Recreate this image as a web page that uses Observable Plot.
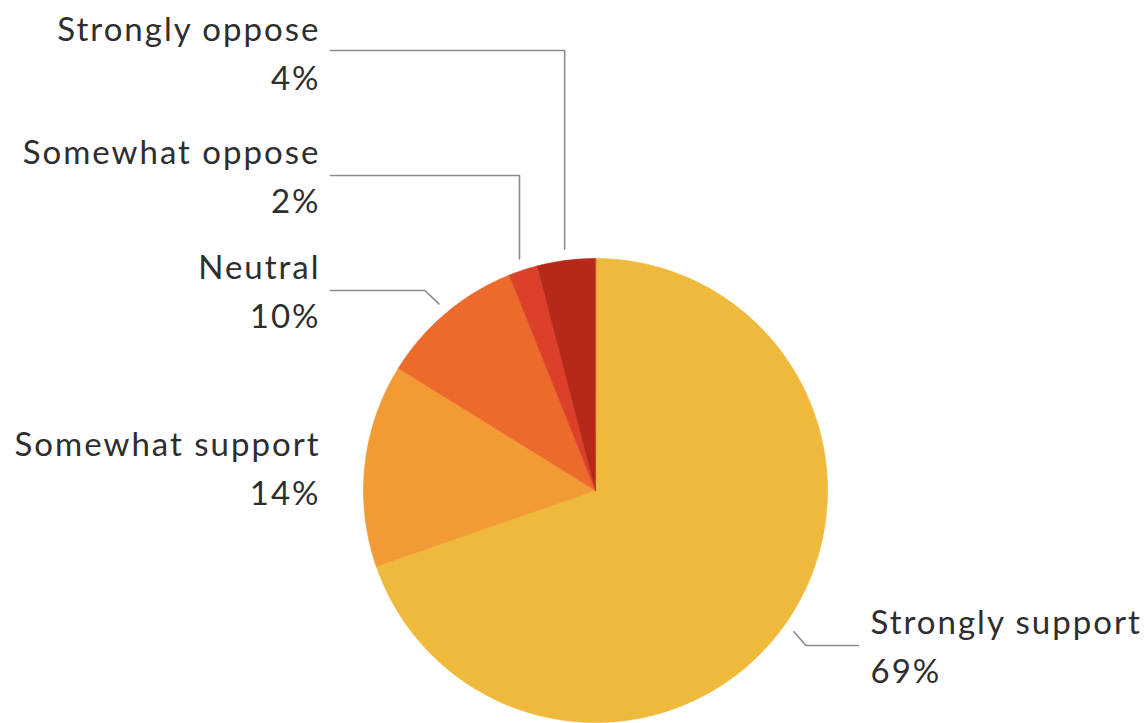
<!DOCTYPE html>
<html><head><meta charset="utf-8">
<script src="https://cdn.jsdelivr.net/npm/d3@7"></script>
<script src="https://cdn.jsdelivr.net/npm/@observablehq/plot@0.6"></script>
<style>body{margin:0;background:#fff} svg text{letter-spacing:2px}</style>
</head><body><div id="chart"></div>
<script>
// ---- data ----
const categories = ["Strongly support", "Somewhat support", "Neutral", "Somewhat oppose", "Strongly oppose"];
const values = [69, 14, 10, 2, 4];
const percentLabels = ["69%", "14%", "10%", "2%", "4%"];
const colors = ["#EFB93C", "#F29A33", "#EC6A2C", "#DC402A", "#B5291B"];

// ---- layout (pixels) ----
const W = 1147, H = 723;
const cx = 595, cy = 490, R = 232;
const fontSize = 33, lineGap = 49;
// side, text x, first-line baseline, leader y, leader elbow dx (null = no leader)
const labelLayout = {
  "Strongly support": {side: "right", tx: 870, base: 633, ly: 645, dx: 12, lx: 858},
  "Somewhat support": {side: "left", tx: 320, base: 455, ly: null},
  "Neutral":          {side: "left", tx: 320, base: 278, ly: 290, dx: -14, lx: 330},
  "Somewhat oppose":  {side: "left", tx: 320, base: 163, ly: 175, dx: 0, lx: 330},
  "Strongly oppose":  {side: "left", tx: 320, base: 40,  ly: 50,  dx: 0, lx: 330}
};

const rows = categories.map((c, i) => ({cat: c, value: values[i], pct: percentLabels[i]}));
const arcs = d3.pie().sort(null).value(d => d.value)(rows);

// slice polygons
const slicePts = [];
for (const a of arcs) {
  const n = Math.max(4, Math.ceil((a.endAngle - a.startAngle) / (Math.PI / 360)));
  slicePts.push({cat: a.data.cat, x: cx, y: cy});
  for (let k = 0; k <= n; k++) {
    const t = a.startAngle + (a.endAngle - a.startAngle) * k / n;
    slicePts.push({cat: a.data.cat, x: cx + R * Math.sin(t), y: cy - R * Math.cos(t)});
  }
}

// leader lines
const leaderPts = [];
for (const a of arcs) {
  const L = labelLayout[a.data.cat];
  if (L.ly == null) continue;
  const m = (a.startAngle + a.endAngle) / 2;
  const px = cx + R * 1.05 * Math.sin(m), py = cy - R * 1.05 * Math.cos(m);
  leaderPts.push({cat: a.data.cat, x: px, y: py});
  leaderPts.push({cat: a.data.cat, x: px + L.dx, y: L.ly});
  leaderPts.push({cat: a.data.cat, x: L.lx, y: L.ly});
}

// label text rows
const textRows = [];
for (const r of rows) {
  const L = labelLayout[r.cat];
  textRows.push({text: r.cat, x: L.tx, y: L.base, side: L.side});
  textRows.push({text: r.pct, x: L.tx, y: L.base + lineGap, side: L.side});
}

const chart = Plot.plot({
  width: W, height: H,
  margin: 0,
  x: {type: "identity", axis: null},
  y: {type: "identity", axis: null},
  color: {domain: categories, range: colors},
  style: {fontFamily: "Lato, sans-serif", background: "#fff"},
  marks: [
    Plot.line(slicePts, {x: "x", y: "y", z: "cat", fill: "cat", stroke: "cat", strokeWidth: 0.6, curve: "linear-closed"}),
    Plot.line(leaderPts, {x: "x", y: "y", z: "cat", stroke: "#8a8a8a", strokeWidth: 1.6, curve: "linear"}),
    Plot.text(textRows.filter(d => d.side === "left"), {x: "x", y: "y", text: "text", textAnchor: "end", lineAnchor: "bottom", fontSize, fill: "#2e2e2e"}),
    Plot.text(textRows.filter(d => d.side === "right"), {x: "x", y: "y", text: "text", textAnchor: "start", lineAnchor: "bottom", fontSize, fill: "#2e2e2e"})
  ]
});
document.getElementById("chart").appendChild(chart);
</script>
</body></html>
